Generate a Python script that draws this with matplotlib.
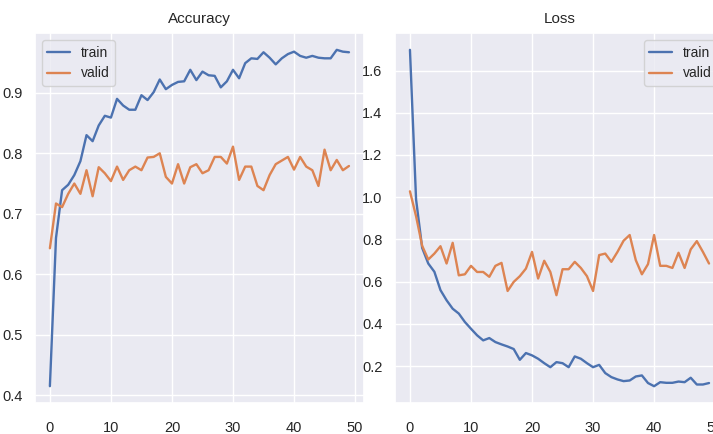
import matplotlib
matplotlib.use('Agg')
import matplotlib.pyplot as plt
import seaborn as sns

epochs = list(range(50))

train_acc = [0.415, 0.66, 0.739, 0.748, 0.764, 0.787, 0.83, 0.82, 0.846, 0.862,
             0.859, 0.89, 0.879, 0.872, 0.872, 0.896, 0.888, 0.901, 0.922, 0.906,
             0.913, 0.918, 0.919, 0.938, 0.921, 0.935, 0.929, 0.928, 0.909, 0.919,
             0.938, 0.924, 0.949, 0.957, 0.956, 0.967, 0.958, 0.947, 0.957, 0.964,
             0.968, 0.961, 0.958, 0.961, 0.958, 0.957, 0.957, 0.971, 0.968, 0.967]
valid_acc = [0.643, 0.717, 0.711, 0.733, 0.75, 0.733, 0.772, 0.729, 0.777, 0.767,
             0.754, 0.778, 0.756, 0.772, 0.778, 0.772, 0.793, 0.794, 0.8, 0.761,
             0.75, 0.782, 0.75, 0.777, 0.782, 0.767, 0.772, 0.794, 0.794, 0.783,
             0.811, 0.756, 0.778, 0.778, 0.746, 0.739, 0.764, 0.782, 0.788, 0.794,
             0.773, 0.794, 0.778, 0.772, 0.746, 0.806, 0.772, 0.789, 0.772, 0.779]

train_loss = [1.698, 0.99, 0.76, 0.686, 0.647, 0.56, 0.512, 0.472, 0.449, 0.409,
              0.377, 0.346, 0.322, 0.333, 0.314, 0.303, 0.293, 0.281, 0.23, 0.262,
              0.251, 0.235, 0.214, 0.195, 0.219, 0.214, 0.195, 0.246, 0.235, 0.214,
              0.195, 0.206, 0.167, 0.148, 0.137, 0.129, 0.132, 0.151, 0.156, 0.12,
              0.105, 0.124, 0.121, 0.121, 0.127, 0.124, 0.145, 0.113, 0.113, 0.12]
valid_loss = [1.028, 0.91, 0.77, 0.705, 0.733, 0.768, 0.686, 0.784, 0.63, 0.635,
              0.675, 0.646, 0.646, 0.623, 0.675, 0.689, 0.556, 0.599, 0.626, 0.662,
              0.741, 0.615, 0.699, 0.646, 0.536, 0.659, 0.659, 0.694, 0.665, 0.626,
              0.556, 0.726, 0.733, 0.694, 0.741, 0.794, 0.821, 0.702, 0.635, 0.683,
              0.821, 0.675, 0.675, 0.665, 0.737, 0.665, 0.753, 0.792, 0.741, 0.686]

sns.set_theme(style='darkgrid', palette='deep')
plt.rcParams['font.family'] = ['Liberation Sans', 'DejaVu Sans']

fig = plt.figure(figsize=(7.13, 4.34), dpi=100)
ax1 = fig.add_axes([0.049, 0.0714, 0.4614, 0.8525])
ax2 = fig.add_axes([0.554, 0.0714, 0.4614, 0.8525])

ax1.plot(epochs, train_acc, label='train', lw=1.7)
ax1.plot(epochs, valid_acc, label='valid', lw=1.7)
ax1.set_title('Accuracy', fontsize=11, pad=7)
ax1.legend(loc='upper left', fontsize=10, handlelength=1.6)

ax2.plot(epochs, train_loss, label='train', lw=1.7)
ax2.plot(epochs, valid_loss, label='valid', lw=1.7)
ax2.set_title('Loss', fontsize=11, pad=7)
ax2.legend(loc='upper right', fontsize=10, handlelength=1.6)

for ax in (ax1, ax2):
    ax.set_xticks([0, 10, 20, 30, 40, 50])
    ax.tick_params(axis='x', labelsize=10.5, pad=7)
    ax.tick_params(axis='y', labelsize=10.5, pad=3)

fig.savefig('out.png', dpi=100)
